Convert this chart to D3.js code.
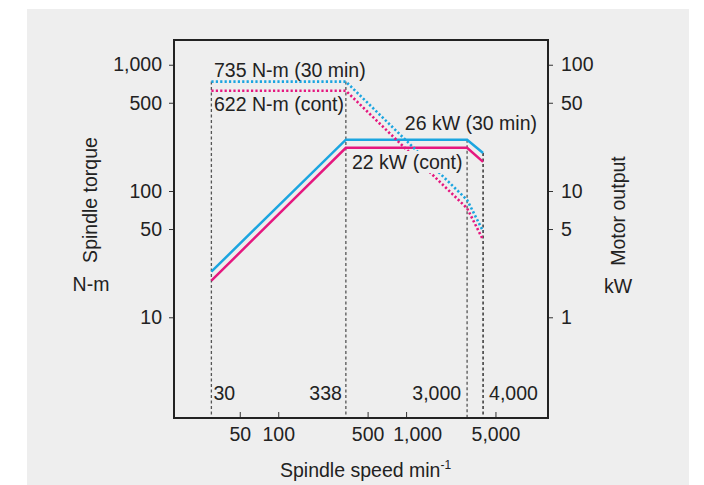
<!DOCTYPE html>
<html>
<head>
<meta charset="utf-8">
<script src="https://cdn.jsdelivr.net/npm/d3@7"></script>
<style>
  body { margin: 0; background: #fff; }
  text { font-family: "Liberation Sans", Arial, sans-serif; fill: #222; }
</style>
</head>
<body>
<svg id="chart" width="704" height="485"></svg>
<script>
// data
const speeds = [30, 338, 3000, 4000];
const power30min = [2.3, 25.5, 25.5, 20];     // kW
const powerCont = [1.95, 22, 22, 17];         // kW
const torque30min = [735, 735, 85, 48];       // N-m
const torqueCont = [622, 622, 73, 41];        // N-m
const speedLabels = ["30", "338", "3,000", "4,000"];
const xTicks = [50, 100, 500, 1000, 5000];
const torqueTicks = [10, 50, 100, 500, 1000];
const powerTicks = [1, 5, 10, 50, 100];

const FS = "19.5px";
const svg = d3.select("#chart");
const margin = {left: 174, right: 156, top: 40, bottom: 67};
const W = 704, H = 485;
const x0 = margin.left, x1 = W - margin.right;
const y0 = margin.top, y1 = H - margin.bottom;

// grey panel
svg.append("rect")
  .attr("x", 27).attr("y", 9)
  .attr("width", 662).attr("height", 480)
  .attr("fill", "#eeeeee");

// scales
let x = d3.scaleLog().domain([15.3, 12880]).range([x0, x1]);
let yT = d3.scaleLog().domain([1.594, 1570]).range([y1, y0]);
let yP = d3.scaleLog().domain([0.1594, 157]).range([y1, y0]);

const fmt = d3.format(",");

// axes
let gl = svg.append("g").attr("transform", `translate(${x0},0)`)
  .call(d3.axisLeft(yT).tickValues(torqueTicks).tickFormat(fmt)
        .tickSizeInner(5).tickSizeOuter(0).tickPadding(7));
let gr = svg.append("g").attr("transform", `translate(${x1},0)`)
  .call(d3.axisRight(yP).tickValues(powerTicks).tickFormat(fmt)
        .tickSizeInner(5).tickSizeOuter(0).tickPadding(8));
let gb = svg.append("g").attr("transform", `translate(0,${y1})`)
  .call(d3.axisBottom(x).tickValues(xTicks).tickFormat(fmt)
        .tickSizeInner(-6).tickSizeOuter(0).tickPadding(9));
[gl, gr, gb].forEach(g => {
  g.select(".domain").remove();
  g.selectAll(".tick line").attr("stroke", "#333").attr("stroke-width", 1);
  g.selectAll(".tick text").style("font-size", FS).attr("fill", "#222")
    .style("font-family", '"Liberation Sans", Arial, sans-serif');
});
// the 1,000 label sits a little right of its tick so it clears 500
gb.selectAll(".tick text").filter(d => d == 1000).attr("x", 11);

// vertical dashed guide lines
speeds.forEach((s, i) => {
  let top = i < 2 ? yT(torque30min[i]) : yP(power30min[i]);
  svg.append("line")
    .attr("x1", x(s)).attr("x2", x(s))
    .attr("y1", top).attr("y2", y1)
    .attr("stroke", i == 3 ? "#1a1a1a" : "#555")
    .attr("stroke-width", 1.3)
    .attr("stroke-dasharray", "3,2.5");
});

// power lines (solid)
const blue = "#1ba5e0", pink = "#e5177f";
let linePower = d3.line().x(d => x(d[0])).y(d => yP(d[1]));
svg.append("path").datum(d3.zip(speeds, powerCont))
  .attr("d", linePower).attr("fill", "none")
  .attr("stroke", pink).attr("stroke-width", 2.5);
svg.append("path").datum(d3.zip(speeds, power30min))
  .attr("d", linePower).attr("fill", "none")
  .attr("stroke", blue).attr("stroke-width", 2.5);

// torque lines (dotted)
let lineTorque = d3.line().x(d => x(d[0])).y(d => yT(d[1]));
svg.append("path").datum(d3.zip(speeds, torqueCont))
  .attr("d", lineTorque).attr("fill", "none")
  .attr("stroke", pink).attr("stroke-width", 2.6)
  .attr("stroke-dasharray", "2.2,2.2");
svg.append("path").datum(d3.zip(speeds, torque30min))
  .attr("d", lineTorque).attr("fill", "none")
  .attr("stroke", blue).attr("stroke-width", 2.6)
  .attr("stroke-dasharray", "2.2,2.2");

// frame
svg.append("rect")
  .attr("x", x0).attr("y", y0)
  .attr("width", x1 - x0).attr("height", y1 - y0)
  .attr("fill", "none").attr("stroke", "#222").attr("stroke-width", 2);

// annotations
function label(txt, xp, yp, anchor, bg) {
  if (bg) {
    let t = svg.append("text").attr("x", xp).attr("y", yp)
      .attr("text-anchor", anchor).style("font-size", FS).text(txt);
    let b = t.node().getBBox();
    t.remove();
    svg.append("rect").attr("x", b.x - 2).attr("y", b.y)
      .attr("width", b.width + 4).attr("height", b.height)
      .attr("fill", "#eeeeee");
  }
  svg.append("text").attr("x", xp).attr("y", yp)
    .attr("text-anchor", anchor).style("font-size", FS).text(txt);
}
label("735 N-m (30 min)", 214, 77, "start");
label("622 N-m (cont)", 214, 111, "start");
label("26 kW (30 min)", 537, 130, "end");
label("22 kW (cont)", 352, 169, "start", true);

// speed break labels inside the plot
const breakAnchor = ["start", "end", "end", "start"];
const breakOffset = [2, -4, -6, 6];
speeds.forEach((s, i) => {
  svg.append("text")
    .attr("x", x(s) + breakOffset[i]).attr("y", 400)
    .attr("text-anchor", breakAnchor[i])
    .style("font-size", FS).text(speedLabels[i]);
});

// axis titles
svg.append("text")
  .attr("transform", "translate(97,200) rotate(-90)")
  .attr("text-anchor", "middle").style("font-size", FS)
  .text("Spindle torque");
svg.append("text").attr("x", 91).attr("y", 291)
  .attr("text-anchor", "middle").style("font-size", FS).text("N-m");
svg.append("text")
  .attr("transform", "translate(625,211) rotate(-90)")
  .attr("text-anchor", "middle").style("font-size", FS)
  .text("Motor output");
svg.append("text").attr("x", 618).attr("y", 293)
  .attr("text-anchor", "middle").style("font-size", FS).text("kW");

let xt = svg.append("text").attr("x", 280).attr("y", 477)
  .style("font-size", FS).text("Spindle speed min");
xt.append("tspan").attr("dy", -8).style("font-size", "12px").text("-1");
</script>
</body>
</html>
